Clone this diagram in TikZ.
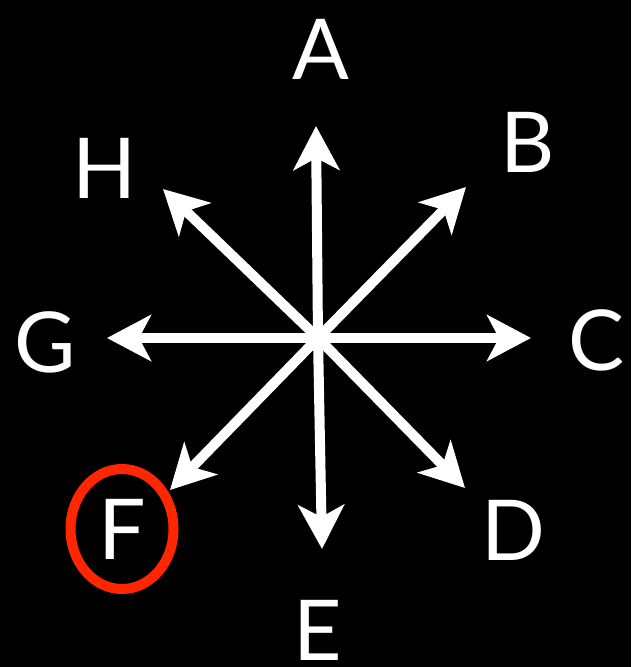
\documentclass[tikz,border=0pt]{standalone}
\usepackage{fontspec}
\setmainfont{Lato}
\usetikzlibrary{arrows.meta}

\begin{document}
\begin{tikzpicture}[x=0.5pt, y=-0.5pt,
    lettre/.style={text=white, inner sep=0pt, font=\fontsize{42}{42}\selectfont},
    fleche/.style={-{Stealth[length=22pt, width=23pt, inset=6pt]}, line width=5pt, white},
    cercle/.style={draw={rgb,255:red,255;green,38;blue,0}, line width=5pt}
]
    \fill[black] (0,0) rectangle (631,667);

    \coordinate (centre) at (318,338);
    \coordinate (pA) at (316,126);
    \coordinate (pB) at (466,187);
    \coordinate (pC) at (531,338);
    \coordinate (pD) at (465,488);
    \coordinate (pE) at (322,549);
    \coordinate (pF) at (170,490);
    \coordinate (pG) at (107,338);
    \coordinate (pH) at (163,189);

    \node[lettre] (A) at (321,49) {A};
    \node[lettre] (B) at (528,142) {B};
    \node[lettre] (C) at (597,340) {C};
    \node[lettre] (D) at (513,530) {D};
    \node[lettre] (E) at (318,630) {E};
    \node[lettre] (F) at (122,529) {F};
    \node[lettre] (G) at (45,342) {G};
    \node[lettre] (H) at (105,168) {H};

    \foreach \p in {pA,pB,pC,pD,pE,pF,pG,pH}
        \draw[fleche] (centre) -- (\p);

    \draw[cercle] (F) ellipse [x radius=51.5, y radius=60];
\end{tikzpicture}
\end{document}
